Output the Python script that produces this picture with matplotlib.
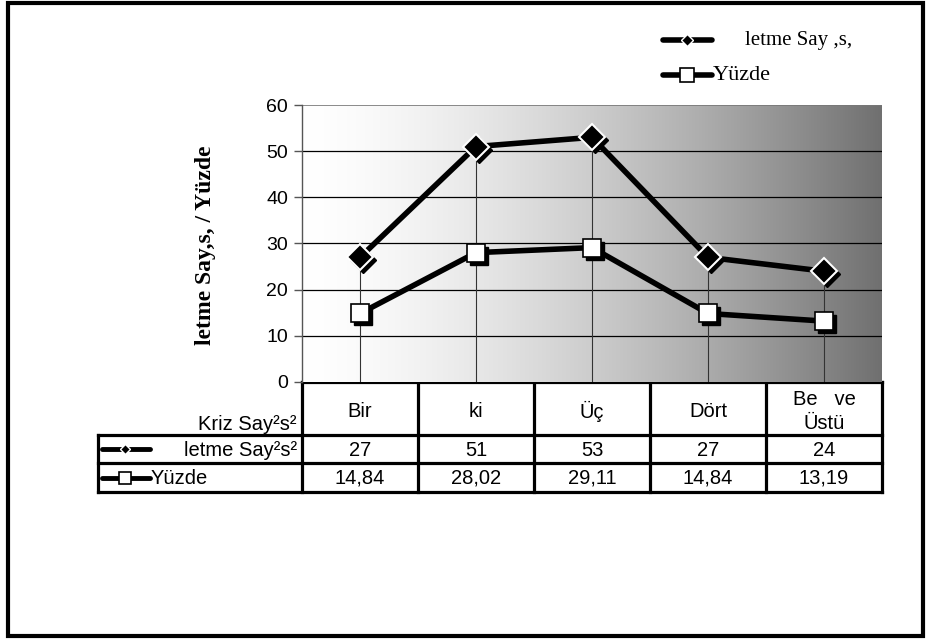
import numpy as np
import matplotlib
matplotlib.use("Agg")
import matplotlib.pyplot as plt
import matplotlib.transforms as mtransforms
from matplotlib.lines import Line2D

categories = ["Bir", "ki", "Üç", "Dört", "Be   ve\nÜstü"]
isletme = [27, 51, 53, 27, 24]
yuzde = [14.84, 28.02, 29.11, 14.84, 13.19]
isletme_labels = ["27", "51", "53", "27", "24"]
yuzde_labels = ["14,84", "28,02", "29,11", "14,84", "13,19"]
yticks = [0, 10, 20, 30, 40, 50, 60]
series_names = ["letme Say ,s,", "Yüzde"]
table_row_names = ["letme Say²s²", "Yüzde"]
header_label = "Kriz Say²s²"
ylabel = "letme Say,s, / Yüzde"

W, H = 931, 642
fig = plt.figure(figsize=(W / 100, H / 100), dpi=100)

# overlay axes in pixel coordinates
ov = fig.add_axes([0, 0, 1, 1], zorder=0)
ov.set_xlim(0, W)
ov.set_ylim(H, 0)
ov.axis("off")

L, R, T, B = 302, 882, 105, 382
ax = fig.add_axes([L / W, 1 - B / H, (R - L) / W, (B - T) / H], zorder=2)
ax.set_xlim(-0.5, 4.5)
ax.set_ylim(0, 60)

# gradient background
t = np.linspace(0, 1, 256)
vals = (255 - 143 * t ** 1.5) / 255.0
grad = np.dstack([vals, vals, vals]).reshape(1, 256, 3)
ax.imshow(grad, extent=[-0.5, 4.5, 0, 60], aspect="auto", zorder=0, interpolation="bilinear")

for yv in yticks[1:-1]:
    ax.axhline(yv, color="black", lw=0.9, zorder=1)
ax.axhline(60, color="#777777", lw=1.2, zorder=1)

x = np.arange(len(categories))
hi = np.maximum(isletme, yuzde)
ax.vlines(x, 0, hi, color="#333333", lw=0.8, zorder=1)

shadow = mtransforms.offset_copy(ax.transData, fig=fig, x=3, y=-3, units="dots")

ax.plot(x, isletme, color="black", lw=4, zorder=3, solid_capstyle="butt")
ax.plot(x, yuzde, color="black", lw=4, zorder=3, solid_capstyle="butt")
ax.plot(x, isletme, ls="none", marker="D", ms=13, mfc="black", mec="black", zorder=4, transform=shadow)
ax.plot(x, isletme, ls="none", marker="D", ms=13, mfc="black", mec="white", mew=1.5, zorder=5)
ax.plot(x, yuzde, ls="none", marker="s", ms=13, mfc="black", mec="black", zorder=4, transform=shadow)
ax.plot(x, yuzde, ls="none", marker="s", ms=13, mfc="white", mec="black", mew=1.2, zorder=5)

ax.set_yticks(yticks)
ax.set_yticklabels([str(v) for v in yticks], fontsize=14, family="Liberation Sans")
ax.set_xticks([])
for s in ["top", "right", "bottom"]:
    ax.spines[s].set_visible(False)
ax.spines["left"].set_color("#555555")
ax.spines["left"].set_linewidth(1.0)
ax.tick_params(axis="y", direction="out", length=6, width=1, color="#555555", pad=4)

fig.text(205 / W, 1 - 245 / H, ylabel, rotation=90, ha="center", va="center",
         fontsize=17, fontweight="bold", family="Liberation Serif")

# legend (manual)
leg_y = [40, 75]
markers = [dict(marker="D", ms=6, mfc="black", mec="white", mew=1.0),
           dict(marker="s", ms=10, mfc="white", mec="black", mew=1.2)]
ov.add_line(Line2D([663, 712], [leg_y[0]] * 2, color="black", lw=4, solid_capstyle="round"))
ov.plot([687], [leg_y[0]], **markers[0])
ov.text(745, leg_y[0], series_names[0], va="center", ha="left", fontsize=15, family="Liberation Serif")
ov.add_line(Line2D([663, 712], [leg_y[1]] * 2, color="black", lw=4, solid_capstyle="round"))
ov.plot([687], [leg_y[1]], **markers[1])
ov.text(713, leg_y[1], series_names[1], va="center", ha="left", fontsize=16, family="Liberation Serif")

# data table
edges = np.linspace(L, R, len(categories) + 1)
centers = (edges[:-1] + edges[1:]) / 2
row_top, row1, row2, row_bot = B, 435, 463, 492
left_tbl = 98
lw_t = 2.3
ov.add_line(Line2D([L, R], [row_top, row_top], color="black", lw=lw_t))
for e in edges:
    ov.add_line(Line2D([e, e], [row_top, row_bot], color="black", lw=lw_t))
for yy in [row1, row2, row_bot]:
    ov.add_line(Line2D([left_tbl, R], [yy, yy], color="black", lw=lw_t))
ov.add_line(Line2D([left_tbl, left_tbl], [row1, row_bot], color="black", lw=lw_t))

fs = 14.5
ov.text(297, 424, header_label, ha="right", va="center", fontsize=fs, family="Liberation Sans")
for c, lab in zip(centers, categories):
    ov.text(c, (row_top + row1) / 2 + 3, lab, ha="center", va="center", fontsize=fs,
            family="Liberation Sans", linespacing=1.35)
for c, lab in zip(centers, isletme_labels):
    ov.text(c, (row1 + row2) / 2 + 1, lab, ha="center", va="center", fontsize=fs, family="Liberation Sans")
for c, lab in zip(centers, yuzde_labels):
    ov.text(c, (row2 + row_bot) / 2 + 1, lab, ha="center", va="center", fontsize=fs, family="Liberation Sans")

# row keys
ky1 = (row1 + row2) / 2
ov.add_line(Line2D([102, 150], [ky1, ky1], color="black", lw=3.5, solid_capstyle="round"))
ov.plot([125], [ky1], marker="D", ms=5, mfc="black", mec="white", mew=1.0)
ov.text(297, ky1 + 1, table_row_names[0], ha="right", va="center", fontsize=fs, family="Liberation Sans")
ky2 = (row2 + row_bot) / 2
ov.add_line(Line2D([102, 150], [ky2, ky2], color="black", lw=3.5, solid_capstyle="round"))
ov.plot([125], [ky2], marker="s", ms=8, mfc="white", mec="black", mew=1.2)
ov.text(151, ky2 + 1, table_row_names[1], ha="left", va="center", fontsize=fs, family="Liberation Sans")

# outer border
ov.add_patch(plt.Rectangle((8, 3), 915, 633, fill=False, lw=3, ec="black"))

fig.savefig("out.png", dpi=100)
